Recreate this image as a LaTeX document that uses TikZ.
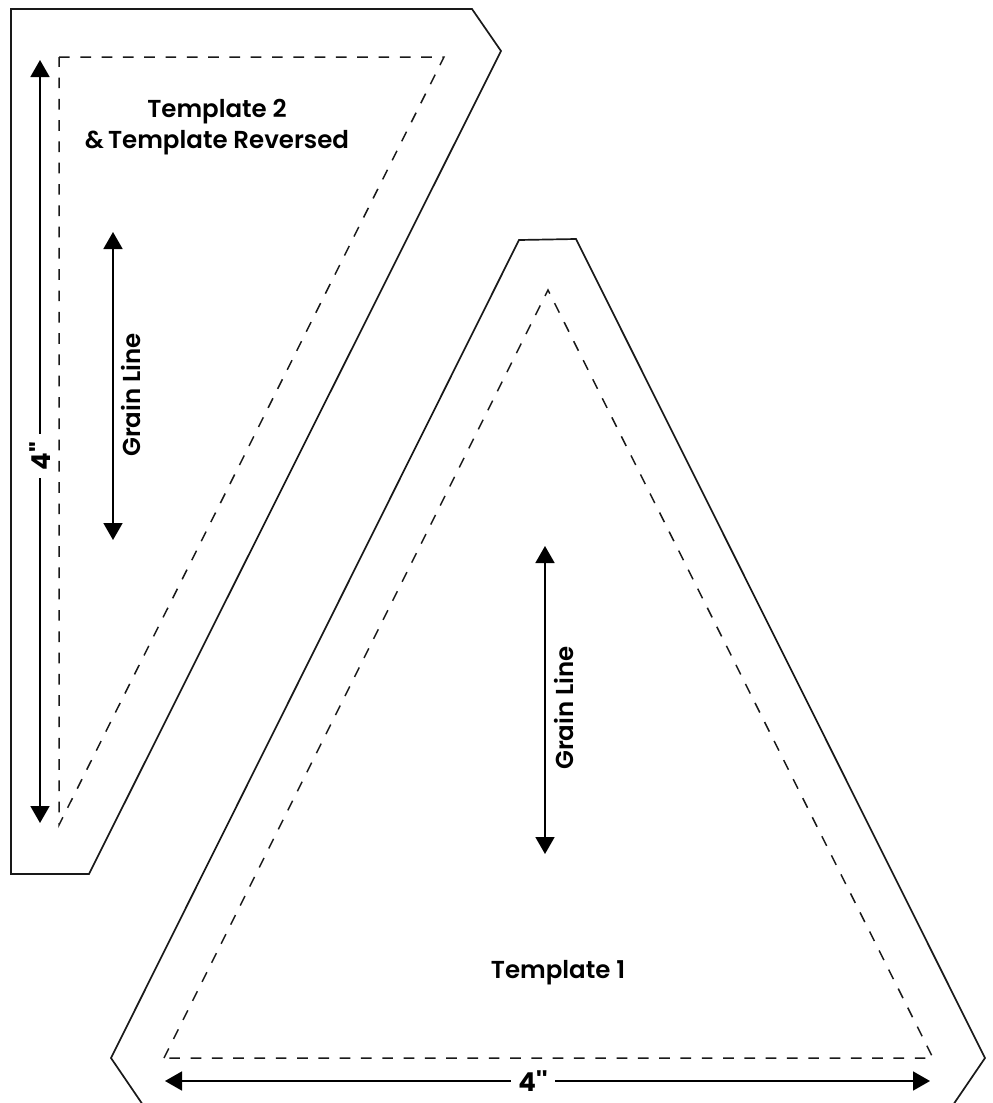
\documentclass[tikz,border=0pt]{standalone}
\usepackage{fontspec}
\setmainfont{Poppins SemiBold}
\newfontfamily\dimfont[Ligatures=NoCommon]{Poppins Bold}
\usetikzlibrary{arrows.meta}
\tikzset{
  outline/.style={draw=black!90,line width=1.7pt,line join=miter},
  seam/.style={draw=black!90,line width=1.5pt,dash pattern=on 10.7pt off 10.6pt},
  dim/.style={draw=black,line width=1.8pt,-{Triangle[length=17pt,width=19pt]}},
  dimboth/.style={draw=black,line width=1.8pt,{Triangle[length=17pt,width=19pt]}-{Triangle[length=17pt,width=19pt]}},
  lab/.style={font=\fontsize{24.5}{31}\selectfont,text=black,inner sep=0pt,align=center},
  gap/.style={lab,font=\fontsize{26}{31}\selectfont,minimum width=44pt,minimum height=20pt}
}
\begin{document}
\begin{tikzpicture}[x=1pt,y=-1pt]
\useasboundingbox (0,0) rectangle (993,1103);
% Template 2
\draw[outline] (11,9) -- (472,9) -- (501,51) -- (89,874) -- (11,874) -- cycle;
\draw[seam] (59,57) -- (444,57) -- (59,825) -- cycle;
% Template 1
\begin{scope}
\clip (0,0) rectangle (993,1103);
\draw[outline] (143,1105) -- (111,1058) -- (519,240) -- (576,239) -- (985,1058) -- (953,1105);
\end{scope}
\draw[seam] (164,1058) -- (548,290) -- (933,1058) -- cycle;
% Labels
\node[lab] (t2) at (217,127) {Template 2\\\&\,Template Reversed};
\node[lab] (t1) at (558,973) {Template 1};
\node[lab,rotate=90] (g2) at (131,395) {Grain Line};
\node[lab,rotate=90] (g1) at (564,708) {Grain Line};
\node[gap,rotate=90] (d2) at (40,456) {\dimfont 4{'}{'}};
\node[gap] (d1) at (533,1081) {\dimfont 4{'}{'}};
% Arrows
\coordinate (a1) at (113,232); \coordinate (a2) at (113,540);
\coordinate (b1) at (545,546); \coordinate (b2) at (545,854);
\coordinate (c1) at (40,60);   \coordinate (c2) at (40,823);
\coordinate (e1) at (165,1081); \coordinate (e2) at (930,1081);
\draw[dimboth] (a1) -- (a2);
\draw[dimboth] (b1) -- (b2);
\draw[dim] (d2.east) -- (c1);
\draw[dim] (d2.west) -- (c2);
\draw[dim] (d1.west) -- (e1);
\draw[dim] (d1.east) -- (e2);
\end{tikzpicture}
\end{document}
